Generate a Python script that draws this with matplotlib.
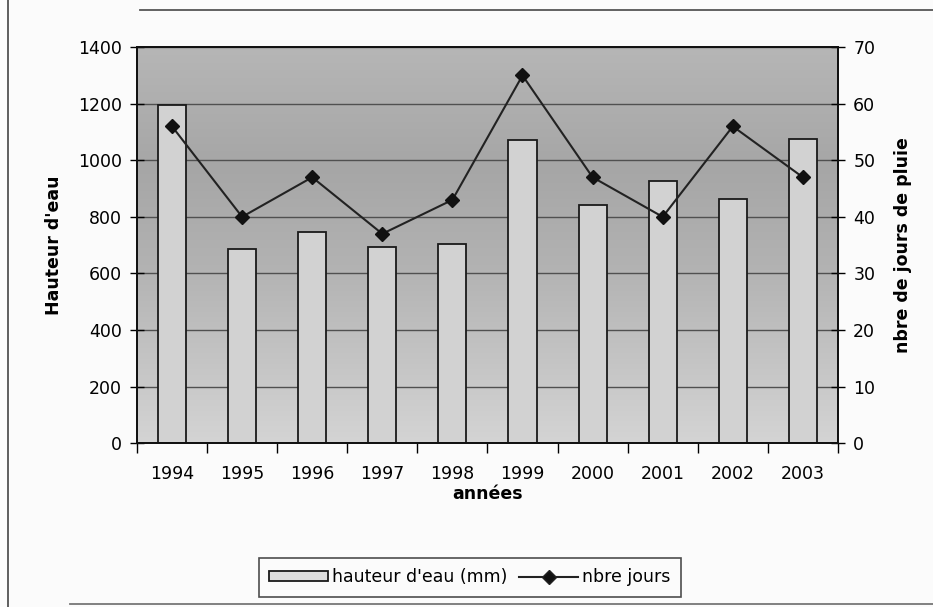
import numpy as np
import matplotlib.pyplot as plt
from matplotlib.colors import LinearSegmentedColormap
from matplotlib.lines import Line2D
from matplotlib.patches import Patch

annees = ['1994', '1995', '1996', '1997', '1998', '1999', '2000', '2001', '2002', '2003']
hauteur_eau = [1195, 686, 747, 692, 703, 1070, 843, 928, 864, 1074]
nbre_jours = [56, 40, 47, 37, 43, 65, 47, 40, 56, 47]

plt.rcParams['font.family'] = ['DejaVu Sans']
taille = 12.5

fig = plt.figure(figsize=(9.33, 6.07), dpi=100, facecolor='#fbfbfb')
ax = fig.add_axes([0.1468, 0.270, 0.7513, 0.6523])

x = np.arange(len(annees))
ax.set_xlim(-0.5, len(annees) - 0.5)
ax.set_ylim(0, 1400)

# fond dégradé de la zone de traçage
fond = LinearSegmentedColormap.from_list(
    'fond', [(0.0, '#b6b6b6'), (0.3, '#a6a6a6'), (0.55, '#b2b2b2'), (1.0, '#d4d4d4')])
ax.imshow(np.linspace(0, 1, 256).reshape(-1, 1), cmap=fond, origin='upper',
          extent=[-0.5, len(annees) - 0.5, 0, 1400], aspect='auto', zorder=0)

ax.set_axisbelow(True)
ax.yaxis.grid(True, color='#505050', linewidth=1.0)
ax.bar(x, hauteur_eau, width=0.4, color='#d2d2d2', edgecolor='#1a1a1a',
       linewidth=1.3, zorder=2)

ax.set_yticks(range(0, 1401, 200))
ax.set_xticks(x)
ax.set_xticklabels(annees)
ax.set_xticks(np.arange(-0.5, len(annees)), minor=True)
ax.tick_params(axis='x', which='major', length=0, pad=16, labelsize=taille)
ax.tick_params(axis='x', which='minor', length=7, direction='out', width=1)
ax.tick_params(axis='y', direction='inout', length=10, width=1, labelsize=taille, pad=6)
for s in ax.spines.values():
    s.set_linewidth(1.3)
    s.set_color('#111111')

ax.set_ylabel("Hauteur d'eau", fontsize=taille, fontweight='bold')
ax.yaxis.set_label_coords(-0.106, 0.5)
ax.set_xlabel('années', fontsize=taille, fontweight='bold')
ax.xaxis.set_label_coords(0.5, -0.106)

# deuxième axe : nombre de jours de pluie
ax2 = ax.twinx()
ax2.set_ylim(0, 70)
ax2.set_yticks(range(0, 71, 10))
ax2.plot(x, nbre_jours, color='#222222', linewidth=1.5, marker='D',
         markersize=7, markerfacecolor='#111111', markeredgecolor='#111111')
ax2.tick_params(axis='y', direction='inout', length=10, width=1, labelsize=taille, pad=6)
ax2.set_ylabel('nbre de jours de pluie', fontsize=taille, fontweight='bold')
ax2.yaxis.set_label_coords(1.08, 0.5)
for s in ax2.spines.values():
    s.set_linewidth(1.3)
    s.set_color('#111111')

handles = [Patch(facecolor='#dedede', edgecolor='#1a1a1a', linewidth=1.3),
           Line2D([], [], color='#222222', linewidth=1.5, marker='D',
                  markersize=7, markerfacecolor='#111111')]
leg = fig.legend(handles, ["hauteur d'eau (mm)", 'nbre jours'], ncol=2,
                 loc='center', bbox_to_anchor=(0.5035, 0.049), fontsize=taille,
                 frameon=True, fancybox=False, edgecolor='#222222',
                 handlelength=3.4, handleheight=0.55, handletextpad=0.2,
                 columnspacing=0.7, borderpad=0.6)
leg.get_frame().set_linewidth(1.2)
leg.get_frame().set_facecolor('#fbfbfb')

# cadre extérieur du graphique
fig.add_artist(Line2D([0.0086, 0.0086], [0.0, 1.0], color='#444444', linewidth=1.2))
fig.add_artist(Line2D([0.15, 1.0], [0.984, 0.984], color='#555555', linewidth=1.3))
fig.add_artist(Line2D([0.075, 1.0], [0.005, 0.005], color='#777777', linewidth=1.3))

fig.savefig('out.png', dpi=100, facecolor=fig.get_facecolor())
